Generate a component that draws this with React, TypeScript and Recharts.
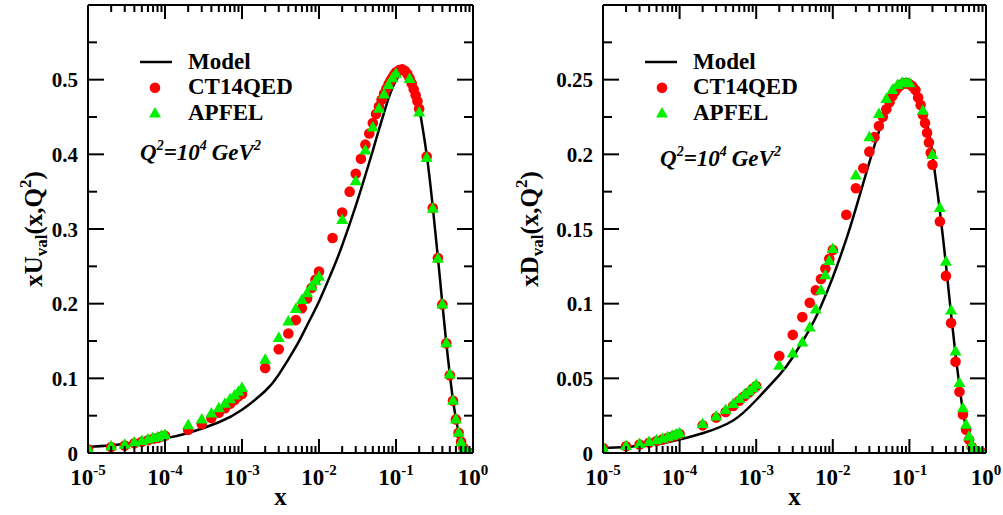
import React from 'react';
import { ComposedChart, Line, Scatter, XAxis, YAxis, Legend } from 'recharts';

const FONT = "'Liberation Serif', 'Times New Roman', Times, serif";

// ---------- x grids ----------
const modelX = [1e-5, 2e-5, 5e-5, 1e-4, 2e-4, 5e-4, 1e-3, 2e-3, 3e-3, 5e-3, 7e-3, 1e-2, 0.015, 0.02, 0.03, 0.04, 0.05, 0.06, 0.07, 0.08, 0.09, 0.1, 0.12, 0.14, 0.16, 0.18, 0.2, 0.25, 0.3, 0.35, 0.4, 0.45, 0.5, 0.55, 0.6, 0.65, 0.7, 0.75, 0.8, 0.85, 0.9, 1];

const ctX = [
  1e-5, 2e-5, 3e-5, 4e-5, 5e-5, 6e-5, 7e-5, 8e-5, 9e-5, 1e-4,
  2e-4, 3e-4, 4e-4, 5e-4, 6e-4, 7e-4, 8e-4, 9e-4, 1e-3,
  2e-3, 3e-3, 4e-3, 5e-3, 6e-3, 7e-3, 8e-3, 9e-3, 1e-2,
  0.015, 0.02, 0.025, 0.03, 0.035, 0.04, 0.045, 0.05, 0.055, 0.06, 0.065, 0.07, 0.075, 0.08, 0.085, 0.09, 0.095, 0.1,
  0.11, 0.12, 0.13, 0.14, 0.15, 0.16, 0.17, 0.18, 0.19, 0.2,
  0.25, 0.3, 0.35, 0.4, 0.45, 0.5, 0.55, 0.6, 0.65, 0.7, 0.75, 0.8, 0.85, 0.9,
];

const apX = [
  1e-5, 2e-5, 3e-5, 4e-5, 5e-5, 6e-5, 7e-5, 8e-5, 9e-5, 1e-4,
  2e-4, 3e-4, 4e-4, 5e-4, 6e-4, 7e-4, 8e-4, 9e-4, 1e-3,
  2e-3, 3e-3, 4e-3, 5e-3, 6e-3, 7e-3, 8e-3, 9e-3, 1e-2,
  0.02, 0.03, 0.04, 0.05, 0.06, 0.07, 0.08, 0.09, 0.1,
  0.15, 0.2,
  0.25, 0.3, 0.35, 0.4, 0.45, 0.5, 0.55, 0.6, 0.65, 0.7, 0.75, 0.8, 0.85, 0.9,
];

// ---------- xU_val ----------
const uModelY = [0.008, 0.0104, 0.0148, 0.0196, 0.0268, 0.0412, 0.058, 0.083, 0.105, 0.142, 0.171, 0.203, 0.245, 0.278, 0.331, 0.372, 0.405, 0.433, 0.456, 0.475, 0.489, 0.499, 0.510, 0.511, 0.503, 0.487, 0.463, 0.400, 0.330, 0.262, 0.200, 0.147, 0.105, 0.071, 0.046, 0.028, 0.015, 0.007, 0.003, 0.001, 0.0002, 0];

const uCtY = [
  0.005, 0.008, 0.010, 0.013, 0.015, 0.017, 0.019, 0.020, 0.022, 0.023,
  0.031, 0.039, 0.047, 0.054, 0.060, 0.066, 0.071, 0.076, 0.079,
  0.114, 0.139, 0.160, 0.178, 0.194, 0.207, 0.221, 0.232, 0.243,
  0.288, 0.322, 0.350, 0.374, 0.394, 0.413, 0.428, 0.442, 0.454, 0.464, 0.473, 0.481, 0.488, 0.494, 0.499, 0.503, 0.507, 0.510,
  0.513, 0.514, 0.512, 0.508, 0.502, 0.495, 0.487, 0.479, 0.471, 0.461,
  0.397, 0.328, 0.261, 0.199, 0.147, 0.104, 0.070, 0.045, 0.027, 0.015, 0.007, 0.002, 0.0005, 0,
];

const uApY = [
  0.006, 0.009, 0.011, 0.014, 0.016, 0.018, 0.020, 0.021, 0.023, 0.024,
  0.037, 0.045, 0.053, 0.060, 0.066, 0.072, 0.077, 0.082, 0.087,
  0.125, 0.154, 0.176, 0.193, 0.205, 0.214, 0.223, 0.230, 0.236,
  0.312, 0.364, 0.405, 0.436, 0.461, 0.480, 0.493, 0.502, 0.508,
  0.501, 0.456,
  0.395, 0.327, 0.260, 0.199, 0.147, 0.105, 0.070, 0.045, 0.027, 0.014, 0.005, 0.001, 0.0002, 0,
];

// ---------- xD_val ----------
const dModelY = [0.0033, 0.0040, 0.0058, 0.0090, 0.0132, 0.0218, 0.0355, 0.0521, 0.0641, 0.0830, 0.0983, 0.1177, 0.1432, 0.1638, 0.1946, 0.2152, 0.2293, 0.2388, 0.2448, 0.2480, 0.2490, 0.2481, 0.2435, 0.2365, 0.2270, 0.2145, 0.2000, 0.1620, 0.1260, 0.0930, 0.0660, 0.0450, 0.0280, 0.0170, 0.0100, 0.0050, 0.0020, 0.0008, 0.0002, 0, 0, 0];

const dCtY = [
  0.0033, 0.0045, 0.0057, 0.0069, 0.0080, 0.0091, 0.0101, 0.0110, 0.0119, 0.0127,
  0.0185, 0.0237, 0.0275, 0.0315, 0.0350, 0.0380, 0.0405, 0.0430, 0.0448,
  0.0650, 0.0791, 0.0910, 0.1006, 0.1090, 0.1165, 0.1235, 0.1300, 0.1360,
  0.1595, 0.1773, 0.1907, 0.2018, 0.2115, 0.2190, 0.2252, 0.2302, 0.2349, 0.2390, 0.2420, 0.2445, 0.2460, 0.2470, 0.2475, 0.2477, 0.2475, 0.2470,
  0.2455, 0.2430, 0.2380, 0.2330, 0.2265, 0.2210, 0.2145, 0.2080, 0.2010, 0.1930,
  0.155, 0.1186, 0.087, 0.0611, 0.041, 0.0258, 0.0156, 0.009, 0.0042, 0.0018, 0.0006, 0.0002, 0, 0,
];

const dApY = [
  0.0035, 0.0047, 0.0060, 0.0073, 0.0085, 0.0096, 0.0106, 0.0115, 0.0124, 0.0133,
  0.0194, 0.0245, 0.0288, 0.0328, 0.0361, 0.0390, 0.0412, 0.0434, 0.0457,
  0.0584, 0.0667, 0.0740, 0.0840, 0.0961, 0.1088, 0.1191, 0.1285, 0.1366,
  0.1858, 0.2115, 0.2270, 0.2370, 0.2430, 0.2465, 0.2480, 0.2480, 0.2476,
  0.2292, 0.1996,
  0.164, 0.128, 0.0954, 0.068, 0.0468, 0.030, 0.019, 0.011, 0.0055, 0.002, 0.0008, 0.0002, 0, 0,
];

// ---------- ticks & labels ----------
const xTicks = [
  1e-5, 2e-5, 3e-5, 4e-5, 5e-5, 6e-5, 7e-5, 8e-5, 9e-5,
  1e-4, 2e-4, 3e-4, 4e-4, 5e-4, 6e-4, 7e-4, 8e-4, 9e-4,
  1e-3, 2e-3, 3e-3, 4e-3, 5e-3, 6e-3, 7e-3, 8e-3, 9e-3,
  1e-2, 0.02, 0.03, 0.04, 0.05, 0.06, 0.07, 0.08, 0.09,
  0.1, 0.2, 0.3, 0.4, 0.5, 0.6, 0.7, 0.8, 0.9, 1,
];
const xMajorTicks = [1e-5, 1e-4, 1e-3, 1e-2, 1e-1, 1];
const xTickExponents = ['-5', '-4', '-3', '-2', '-1', '0'];

const uYTicks = [0, 0.05, 0.1, 0.15, 0.2, 0.25, 0.3, 0.35, 0.4, 0.45, 0.5, 0.55];
const uYMajor = [0, 0.1, 0.2, 0.3, 0.4, 0.5];
const uYLabels = ['0', '0.1', '0.2', '0.3', '0.4', '0.5'];

const dYTicks = [0, 0.025, 0.05, 0.075, 0.1, 0.125, 0.15, 0.175, 0.2, 0.225, 0.25, 0.275];
const dYMajor = [0, 0.05, 0.1, 0.15, 0.2, 0.25];
const dYLabels = ['0', '0.05', '0.1', '0.15', '0.2', '0.25'];

const seriesNames = ['Model', 'CT14QED', 'APFEL'];

const zip = (xs: number[], ys: number[]) => xs.map((x, i) => ({ x, y: ys[i] }));
const findIn = (v: number, arr: number[]) =>
  arr.findIndex((a) => Math.abs(a - v) <= Math.abs(a) * 1e-6 + 1e-9);

const makeXTick = (pos: 'bottom' | 'top') => (props: any) => {
  const { x, y, payload } = props;
  const idx = findIn(payload.value, xMajorTicks);
  const major = idx >= 0;
  const len = major ? 14 : 7;
  const dir = pos === 'bottom' ? -1 : 1;
  return (
    <g>
      <line x1={x} x2={x} y1={y} y2={y + dir * len} stroke="#000" strokeWidth={2} />
      {pos === 'bottom' && major && (
        <text x={x} y={y + 32} textAnchor="middle" fontFamily={FONT} fontWeight="bold" fontSize={23} fill="#000">
          10
          <tspan dy={-10} fontSize={15}>{xTickExponents[idx]}</tspan>
        </text>
      )}
    </g>
  );
};

const makeYTick = (side: 'left' | 'right', majors: number[], labels: string[]) => (props: any) => {
  const { x, y, payload } = props;
  const idx = findIn(payload.value, majors);
  const major = idx >= 0;
  const len = major ? 16 : 9;
  const dir = side === 'left' ? 1 : -1;
  return (
    <g>
      <line x1={x} x2={x + dir * len} y1={y} y2={y} stroke="#000" strokeWidth={2} />
      {side === 'left' && major && (
        <text x={x - 10} y={y + 7.5} textAnchor="end" fontFamily={FONT} fontWeight="bold" fontSize={21} fill="#000">
          {labels[idx]}
        </text>
      )}
    </g>
  );
};

const RED = '#ff0000';
const GREEN = '#00f000';

const CircleShape = (props: any) => <circle cx={props.cx} cy={props.cy} r={5.3} fill={RED} />;
const TriangleShape = (props: any) => {
  const { cx, cy } = props;
  return <path d={`M${cx},${cy - 6.5}L${cx + 6},${cy + 4}L${cx - 6},${cy + 4}Z`} fill={GREEN} />;
};

const LegendContent = ({ payload, qx, qy, cx }: any) => {
  const items = [...(payload || [])].sort(
    (a: any, b: any) => seriesNames.indexOf(a.value) - seriesNames.indexOf(b.value)
  );
  return (
    <svg width={270} height={140} style={{ overflow: 'visible', display: 'block' }}>
      {items.map((e: any, i: number) => {
        const cy = 22 + i * 25.7;
        let sym = null;
        if (e.type === 'line') sym = <line x1={10} x2={42} y1={cy} y2={cy} stroke="#000" strokeWidth={2.5} />;
        else if (e.type === 'circle') sym = <circle cx={cx} cy={cy} r={5.3} fill={RED} />;
        else sym = <path d={`M${cx},${cy - 6.5}L${cx + 6},${cy + 4}L${cx - 6},${cy + 4}Z`} fill={GREEN} />;
        return (
          <g key={i}>
            {sym}
            <text x={58} y={cy + 6.5} fontFamily={FONT} fontWeight="bold" fontSize={23} fill="#000">{e.value}</text>
          </g>
        );
      })}
      <text x={qx} y={qy} fontFamily={FONT} fontWeight="bold" fontStyle="italic" fontSize={23} fill="#000">
        Q<tspan dy={-10} fontSize={14}>2</tspan>
        <tspan dy={10}>=10</tspan>
        <tspan dy={-10} fontSize={14}>4</tspan>
        <tspan dy={10} dx={5}>GeV</tspan>
        <tspan dy={-10} fontSize={14}>2</tspan>
      </text>
    </svg>
  );
};

const YTitle = ({ cx, cy, letter }: any) => (
  <text x={cx} y={cy} transform={`rotate(-90, ${cx}, ${cy})`} textAnchor="middle" fontFamily={FONT} fontWeight="bold" fontSize={25} fill="#000">
    x{letter}
    <tspan dy={5} fontSize={17}>val</tspan>
    <tspan dy={-5}>(x,Q</tspan>
    <tspan dy={-11} fontSize={17}>2</tspan>
    <tspan dy={11}>)</tspan>
  </text>
);

type PanelProps = {
  width: number;
  marginLeft: number;
  rightAxisWidth: number;
  model: { x: number; y: number }[];
  ct: { x: number; y: number }[];
  ap: { x: number; y: number }[];
  yMax: number;
  yTicks: number[];
  yMajor: number[];
  yLabels: string[];
  letter: string;
  titleX: number;
  legendLeft: number;
  legendCx: number;
  qx: number;
  qy: number;
};

const Panel = (p: PanelProps) => (
  <ComposedChart width={p.width} height={515} margin={{ top: 0, right: 0, bottom: 22, left: p.marginLeft }}>
    <XAxis
      xAxisId="b"
      dataKey="x"
      type="number"
      scale="log"
      domain={[1e-5, 1]}
      allowDataOverflow
      ticks={xTicks}
      interval={0}
      tickSize={0}
      tickMargin={0}
      height={40}
      axisLine={{ stroke: '#000', strokeWidth: 2 }}
      tick={makeXTick('bottom')}
      label={{
        content: (lp: any) => {
          const vb = lp.viewBox || { x: 0, y: 0, width: 0 };
          return (
            <text x={vb.x + vb.width / 2} y={vb.y + 52} textAnchor="middle" fontFamily={FONT} fontWeight="bold" fontSize={25} fill="#000">x</text>
          );
        },
      }}
    />
    <XAxis
      xAxisId="t"
      orientation="top"
      dataKey="x"
      type="number"
      scale="log"
      domain={[1e-5, 1]}
      allowDataOverflow
      ticks={xTicks}
      interval={0}
      tickSize={0}
      tickMargin={0}
      height={5}
      axisLine={{ stroke: '#000', strokeWidth: 2 }}
      tick={makeXTick('top')}
    />
    <YAxis
      yAxisId="l"
      dataKey="y"
      type="number"
      domain={[0, p.yMax]}
      allowDataOverflow
      ticks={p.yTicks}
      interval={0}
      tickSize={0}
      tickMargin={0}
      width={60}
      axisLine={{ stroke: '#000', strokeWidth: 2 }}
      tick={makeYTick('left', p.yMajor, p.yLabels)}
      label={{ content: () => <YTitle cx={p.titleX} cy={229} letter={p.letter} /> }}
    />
    <YAxis
      yAxisId="r"
      orientation="right"
      dataKey="y"
      type="number"
      domain={[0, p.yMax]}
      allowDataOverflow
      ticks={p.yTicks}
      interval={0}
      tickSize={0}
      tickMargin={0}
      width={p.rightAxisWidth}
      axisLine={{ stroke: '#000', strokeWidth: 2 }}
      tick={makeYTick('right', p.yMajor, p.yLabels)}
    />
    <Legend
      layout="vertical"
      align="center"
      verticalAlign="middle"
      wrapperStyle={{ position: 'absolute', left: p.legendLeft, top: 40, width: 270, height: 140 }}
      content={(lp: any) => <LegendContent payload={lp.payload} qx={p.qx} qy={p.qy} cx={p.legendCx} />}
    />
    <Line
      xAxisId="b"
      yAxisId="l"
      data={p.model}
      dataKey="y"
      name={seriesNames[0]}
      type="natural"
      stroke="#000"
      strokeWidth={2.5}
      dot={false}
      activeDot={false}
      legendType="line"
      isAnimationActive={false}
    />
    <Scatter
      xAxisId="b"
      yAxisId="l"
      data={p.ct}
      dataKey="y"
      name={seriesNames[1]}
      fill={RED}
      shape={CircleShape}
      legendType="circle"
      isAnimationActive={false}
    />
    <Scatter
      xAxisId="b"
      yAxisId="l"
      data={p.ap}
      dataKey="y"
      name={seriesNames[2]}
      fill={GREEN}
      shape={TriangleShape}
      legendType="triangle"
      isAnimationActive={false}
    />
  </ComposedChart>
);

export default function App() {
  return (
    <div style={{ position: 'absolute', left: 0, top: 0, width: 1003, height: 515, background: '#fff', overflow: 'hidden' }}>
      <div style={{ position: 'absolute', left: 0, top: 0 }}>
        <Panel
          width={500}
          marginLeft={28}
          rightAxisWidth={27}
          model={zip(modelX, uModelY)}
          ct={zip(ctX, uCtY)}
          ap={zip(apX, uApY)}
          yMax={0.6}
          yTicks={uYTicks}
          yMajor={uYMajor}
          yLabels={uYLabels}
          letter="U"
          titleX={42}
          legendLeft={130}
          legendCx={25}
          qx={10}
          qy={120}
        />
      </div>
      <div style={{ position: 'absolute', left: 500, top: 0 }}>
        <Panel
          width={503}
          marginLeft={43}
          rightAxisWidth={17}
          model={zip(modelX, dModelY)}
          ct={zip(ctX, dCtY)}
          ap={zip(apX, dApY)}
          yMax={0.3}
          yTicks={dYTicks}
          yMajor={dYMajor}
          yLabels={dYLabels}
          letter="D"
          titleX={38}
          legendLeft={135}
          legendCx={27}
          qx={25}
          qy={126}
        />
      </div>
    </div>
  );
}
